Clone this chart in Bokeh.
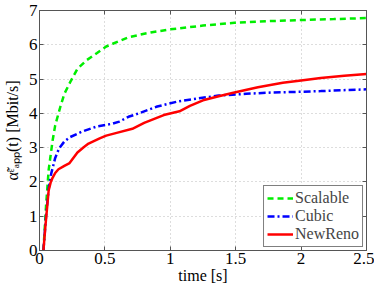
from bokeh.plotting import figure
from bokeh.models import LinearAxis, Legend, LegendItem, FixedTicker, Range1d
from bokeh.embed import file_html
from bokeh.resources import INLINE

# time [s]
t_scalable = [0.03, 0.05, 0.07, 0.10, 0.12, 0.16, 0.19, 0.24, 0.29, 0.36, 0.44, 0.51, 0.56, 0.68, 0.85, 1.00, 1.25, 1.49, 1.75, 1.99, 2.25, 2.50]
v_scalable = [0.0, 1.3, 2.35, 3.2, 3.65, 4.2, 4.57, 4.95, 5.3, 5.55, 5.76, 5.95, 6.03, 6.22, 6.36, 6.45, 6.56, 6.64, 6.69, 6.72, 6.75, 6.78]

t_cubic = [0.03, 0.05, 0.07, 0.09, 0.12, 0.15, 0.19, 0.23, 0.32, 0.44, 0.56, 0.61, 0.68, 0.76, 0.90, 1.05, 1.20, 1.37, 1.58, 1.79, 2.00, 2.15, 2.35, 2.50]
v_cubic = [0.0, 1.0, 1.8, 2.25, 2.7, 2.98, 3.18, 3.3, 3.46, 3.62, 3.7, 3.76, 3.9, 4.0, 4.2, 4.34, 4.43, 4.52, 4.57, 4.61, 4.63, 4.65, 4.68, 4.70]

t_newreno = [0.03, 0.045, 0.06, 0.07, 0.085, 0.10, 0.12, 0.145, 0.19, 0.23, 0.29, 0.34, 0.375, 0.46, 0.51, 0.59, 0.71, 0.80, 0.95, 1.07, 1.15, 1.25, 1.37, 1.49, 1.67, 1.86, 2.00, 2.15, 2.33, 2.50]
v_newreno = [0.0, 0.7, 1.33, 1.75, 1.98, 2.12, 2.26, 2.37, 2.47, 2.55, 2.86, 3.02, 3.12, 3.27, 3.35, 3.43, 3.55, 3.72, 3.95, 4.06, 4.22, 4.38, 4.5, 4.61, 4.76, 4.89, 4.96, 5.03, 5.1, 5.15]

x_ticks = [0, 0.5, 1, 1.5, 2, 2.5]
y_ticks = [0, 1, 2, 3, 4, 5, 6, 7]

FONT = "Liberation Serif"

p = figure(width=374, height=286, output_backend="svg", toolbar_location=None,
           x_range=Range1d(0, 2.5), y_range=Range1d(0, 7),
           min_border_left=2, min_border_right=8, min_border_top=10, min_border_bottom=2)

l1 = p.line(t_scalable, v_scalable, color="#00ee00", line_width=2.5, line_dash="6 4")
l2 = p.line(t_cubic, v_cubic, color="#0000ff", line_width=2.5, line_dash="7 3 2 3")
l3 = p.line(t_newreno, v_newreno, color="#ff0000", line_width=2.5)

for ax in (p.xaxis[0], p.yaxis[0]):
    ax.major_label_text_font = FONT
    ax.major_label_text_font_size = "17px"
    ax.major_label_text_color = "black"
    ax.axis_label_text_font = FONT
    ax.axis_label_text_font_size = "16px"
    ax.axis_label_text_font_style = "normal"
    ax.axis_label_text_color = "black"
    ax.major_tick_in = 4
    ax.major_tick_out = 0
    ax.minor_tick_line_color = None
    ax.axis_line_color = "#555555"
    ax.major_tick_line_color = "#555555"
    ax.major_label_standoff = 2

p.xaxis[0].ticker = FixedTicker(ticks=x_ticks)
p.yaxis[0].ticker = FixedTicker(ticks=y_ticks)
p.xaxis[0].major_label_overrides = {0: "0", 0.5: "0.5", 1: "1", 1.5: "1.5", 2: "2", 2.5: "2.5"}
p.xaxis[0].axis_label = "time [s]"
p.xaxis[0].axis_label_standoff = 0
p.yaxis[0].axis_label = "α̃ᵋₐₚₚ(t) [Mbit/s]"
p.yaxis[0].axis_label_standoff = 5

for loc, ticks in (("right", y_ticks), ("above", x_ticks)):
    ax = LinearAxis(ticker=FixedTicker(ticks=ticks),
                    major_label_overrides={t: "" for t in ticks},
                    major_tick_in=4, major_tick_out=0, minor_tick_line_color=None,
                    axis_line_color="#555555", major_tick_line_color="#555555",
                    major_label_standoff=0)
    p.add_layout(ax, loc)

p.xgrid.ticker = FixedTicker(ticks=x_ticks)
p.ygrid.ticker = FixedTicker(ticks=y_ticks)
p.grid.grid_line_color = "#bbbbbb"
p.grid.grid_line_dash = "1 3"
p.grid.grid_line_width = 1
p.outline_line_color = "#555555"

legend = Legend(items=[LegendItem(label="Scalable", renderers=[l1]),
                       LegendItem(label="Cubic", renderers=[l2]),
                       LegendItem(label="NewReno", renderers=[l3])],
                location="bottom_right", label_text_font=FONT, label_text_font_size="16px",
                border_line_color="black", border_line_width=1, spacing=0, padding=3,
                margin=3, label_height=16, glyph_width=26, glyph_height=16,
                label_standoff=2, background_fill_alpha=1)
p.add_layout(legend)

open("out.html", "w").write(file_html(p, INLINE))
